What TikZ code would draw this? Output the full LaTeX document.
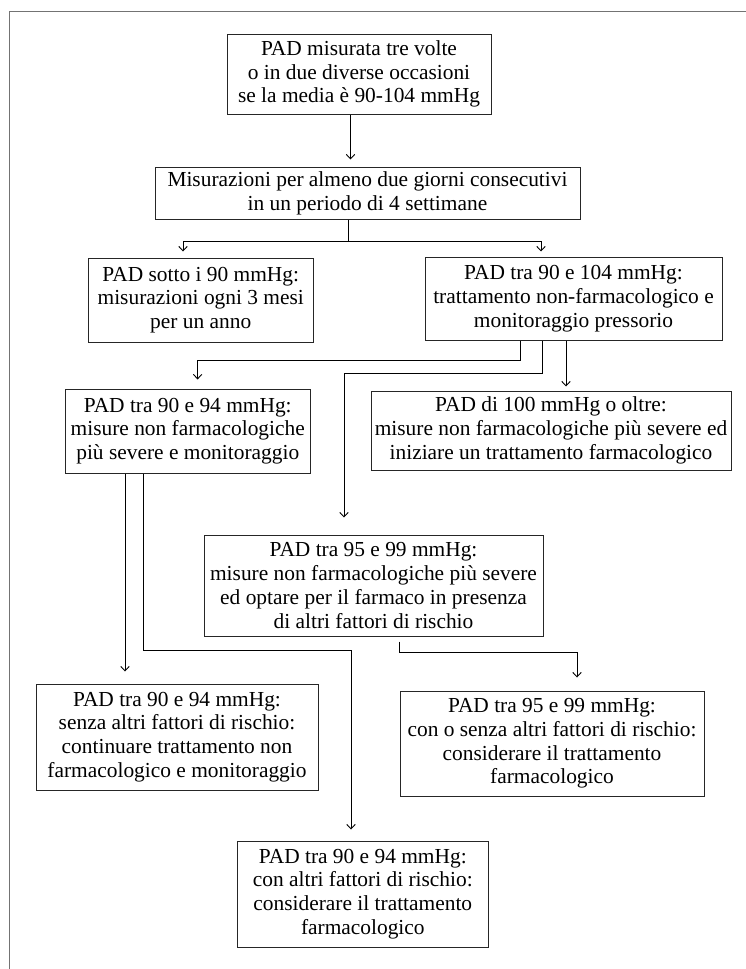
\documentclass[tikz,border=0pt]{standalone}
\usepackage{fontspec}
\setmainfont{Liberation Serif}
\usetikzlibrary{arrows.meta}
\begin{document}
\begin{tikzpicture}[x=1pt,y=-1pt,
  box/.style={draw=black!85, line width=1pt, align=center, inner sep=0pt,
    font=\fontsize{21.4}{23.8}\selectfont},
  conn/.style={draw=black, line width=0.9pt},
  arr/.style={conn, -{Straight Barb[length=4.5pt,width=8.5pt]}},
  frameline/.style={draw=black!55, line width=1.6pt}]
\useasboundingbox (0,0) rectangle (746,969);
% outer frame (top and left)
\draw[frameline] (746,11.5) -- (9.5,11.5) -- (9.5,969);

\node[box, minimum width=264pt, minimum height=80pt] (a) at (359,74)
  {PAD misurata tre volte\\o in due diverse occasioni\\se la media è 90-104 mmHg};
\node[box, minimum width=425pt, minimum height=52pt] (b) at (367.5,193)
  {Misurazioni per almeno due giorni consecutivi\\in un periodo di 4 settimane};
\node[box, minimum width=224.5pt, minimum height=84pt] (c) at (200.75,300)
  {PAD sotto i 90 mmHg:\\misurazioni ogni 3 mesi\\per un anno};
\node[box, minimum width=297pt, minimum height=83pt] (d) at (573.5,298.5)
  {PAD tra 90 e 104 mmHg:\\trattamento non-farmacologico e\\monitoraggio pressorio};
\node[box, minimum width=245.5pt, minimum height=84pt] (e) at (187.75,431)
  {PAD tra 90 e 94 mmHg:\\misure non farmacologiche\\più severe e monitoraggio};
\node[box, minimum width=360pt, minimum height=79pt] (f) at (551,430.5)
  {PAD di 100 mmHg o oltre:\\misure non farmacologiche più severe ed\\iniziare un trattamento farmacologico};
\node[box, minimum width=339pt, minimum height=101pt] (g) at (373.5,585.5)
  {PAD tra 95 e 99 mmHg:\\misure non farmacologiche più severe\\ed optare per il farmaco in presenza\\di altri fattori di rischio};
\node[box, minimum width=282pt, minimum height=106pt] (h) at (177,737)
  {PAD tra 90 e 94 mmHg:\\senza altri fattori di rischio:\\continuare trattamento non\\farmacologico e monitoraggio};
\node[box, minimum width=304pt, minimum height=105pt] (j) at (552,743.5)
  {PAD tra 95 e 99 mmHg:\\con o senza altri fattori di rischio:\\considerare il trattamento\\farmacologico};
\node[box, minimum width=250.4pt, minimum height=106pt] (i) at (362.8,894)
  {PAD tra 90 e 94 mmHg:\\con altri fattori di rischio:\\considerare il trattamento\\farmacologico};

% connectors
\draw[arr, shorten >=7pt] ([xshift=-8.5pt]a.south) -- ([xshift=-17pt]b.north);

\draw[conn] ([xshift=-19.5pt]b.south) -- ++(0,22) coordinate (bj);
\draw[arr, shorten >=6pt] (bj) -| ([xshift=-17.75pt]c.north);
\draw[arr, shorten >=5pt] (bj) -| ([xshift=-32.5pt]d.north);

\draw[arr, shorten >=9pt] ([xshift=-53.5pt]d.south) -- ++(0,20) -| ([xshift=9.85pt]e.north);
\draw[arr, shorten >=17pt] ([xshift=-31.5pt]d.south) -- ++(0,33) -| ([xshift=-29.5pt]g.north);
\draw[arr, shorten >=4pt] ([xshift=-7.5pt]d.south) -- ([xshift=15pt]f.north);

\draw[arr, shorten >=12pt] ([xshift=-62.75pt]e.south) -- ([xshift=-52pt]h.north);
\draw[arr, shorten >=11pt] ([xshift=-44.75pt]e.south) -- ++(0,177) -| ([xshift=-11.8pt]i.north);

\draw[arr, shorten <=5pt, shorten >=13pt] ([xshift=25.5pt]g.south) -- ++(0,16) -| ([xshift=25pt]j.north);
\end{tikzpicture}
\end{document}
